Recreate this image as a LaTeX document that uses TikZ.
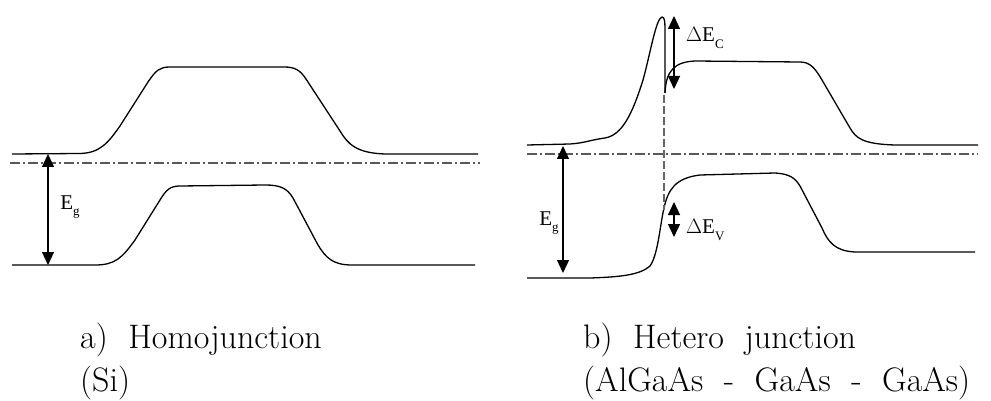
\documentclass[tikz,border=0pt]{standalone}
\usepackage{fontspec}
\newfontfamily\timesf{Liberation Serif}
\usetikzlibrary{arrows.meta}
\begin{document}
\begin{tikzpicture}[x=1pt,y=-1pt,
  band/.style={line width=1.3pt,black,line join=round},
  fermi/.style={line width=1.6pt,black!65,dash pattern=on 10pt off 3pt on 2pt off 3pt},
  iface/.style={line width=1.2pt,black!60,dash pattern=on 8pt off 3pt},
  gaparrow/.style={line width=1.2pt,{Triangle[width=12pt,length=13pt]}-{Triangle[width=12pt,length=13pt]}},
  elabel/.style={font=\timesf\fontsize{21}{24}\selectfont,inner sep=0pt},
  caption/.style={font=\fontsize{34}{40}\selectfont,inner sep=0pt,anchor=base west}]
\useasboundingbox (0,0) rectangle (991,401);
% ---------- left: homojunction ----------
\draw[band] (12,154) -- (80,153.5)
  .. controls (100,153) and (108,143) .. (120,126) -- (148,82)
  .. controls (156,70) and (160,67) .. (170,67) -- (284,67)
  .. controls (295,67) and (300,70) .. (306,79) -- (340,131)
  .. controls (348,144) and (356,153) .. (385,154) -- (478,154);
\draw[fermi] (10,163) -- (480,163);
\draw[band] (12,265) -- (95,265)
  .. controls (115,265) and (122,258) .. (135,240) -- (160,200)
  .. controls (166,190) and (170,186) .. (180,186) -- (265,185)
  .. controls (280,185) and (287,188) .. (293,198) -- (318,245)
  .. controls (326,258) and (333,265) .. (352,265) -- (475,265);
\coordinate (la1) at (48,154);
\coordinate (la2) at (48,265);
\draw[gaparrow] (la1) -- (la2);
\node[elabel] (lEg) at (70,207) {E\raisebox{-0.3em}{\fontsize{13}{15}\selectfont g}};
% ---------- right: heterojunction ----------
\draw[band] (527,145) -- (570,144)
  .. controls (585,143) and (590,140) .. (605,138)
  .. controls (622,135) and (632,115) .. (643,80)
  .. controls (650,55) and (656,18) .. (662,17)
  .. controls (665,17) and (665,22) .. (665,35) -- (665,93);
\draw[band] (665,93)
  .. controls (666,70) and (675,62) .. (695,61) -- (800,62)
  .. controls (810,62) and (815,68) .. (822,80) -- (850,128)
  .. controls (856,138) and (862,144) .. (895,145) -- (978,145);
\draw[fermi] (527,154) -- (978,154);
\draw[band] (527,278) -- (590,278)
  .. controls (620,277) and (640,275) .. (650,266)
  .. controls (658,255) and (660,225) .. (664,208)
  .. controls (668,190) and (675,178) .. (700,175) -- (775,173)
  .. controls (790,174) and (795,178) .. (800,186) -- (822,228)
  .. controls (828,242) and (835,251) .. (855,252) -- (975,252);
\coordinate (jt) at (664,95);
\coordinate (jb) at (664,210);
\draw[iface] (jt) -- (jb);
\coordinate (ra1) at (563,146);
\coordinate (ra2) at (563,273);
\draw[gaparrow] (ra1) -- (ra2);
\node[elabel] (rEg) at (549,223) {E\raisebox{-0.3em}{\fontsize{13}{15}\selectfont g}};
\coordinate (c1) at (674,16);
\coordinate (c2) at (674,89);
\draw[gaparrow] (c1) -- (c2);
\node[elabel,anchor=west] (dEc) at (686,38) {$\Delta$E\raisebox{-0.3em}{\fontsize{13}{15}\selectfont C}};
\coordinate (v1) at (674,202);
\coordinate (v2) at (674,237);
\draw[gaparrow] (v1) -- (v2);
\node[elabel,anchor=west] (dEv) at (686,230) {$\Delta$E\raisebox{-0.3em}{\fontsize{13}{15}\selectfont V}};
% ---------- captions ----------
\node[caption] (ca1) at (80,348) {a)\ \ Homojunction};
\node[caption] (ca2) at (80,391) {(Si)};
\node[caption] (cb1) at (583,348) {b)\ \ Hetero\ \ junction};
\node[caption] (cb2) at (583,391) {(AlGaAs\ \ -\ \ GaAs\ \ -\ \ GaAs)};
\end{tikzpicture}
\end{document}
